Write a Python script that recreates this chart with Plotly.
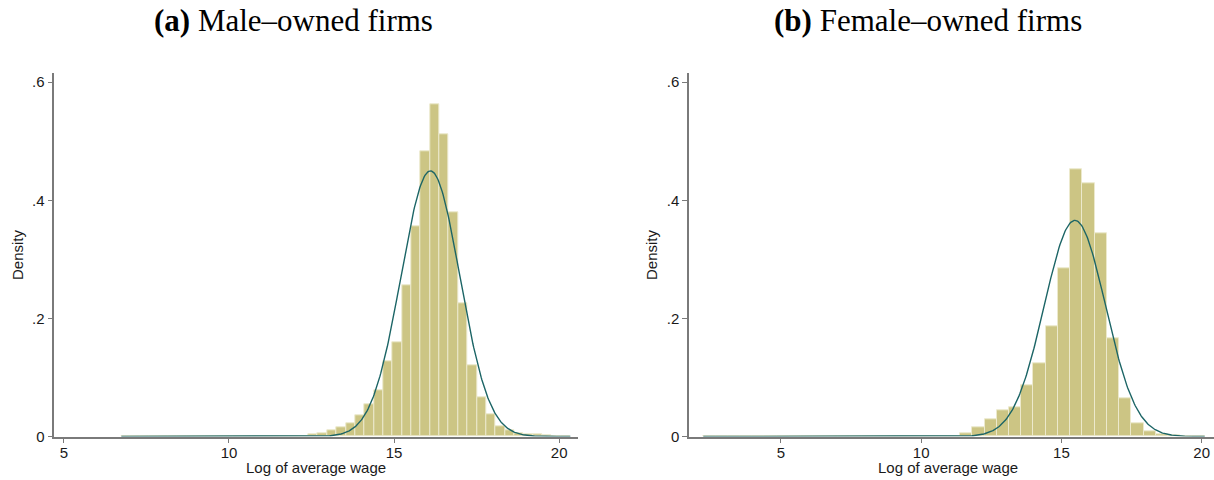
import numpy as np
import plotly.graph_objects as go

# ---------------- data ----------------
tick_vals_x = [5, 10, 15, 20]
tick_vals_y = [0, 0.2, 0.4, 0.6]
tick_text_y = ["0", ".2", ".4", ".6"]

# Male-owned firms: histogram (48 bins starting at data minimum)
male_bin_start = 6.74
male_bin_width = 0.2833
male_density = [0.0] * 20 + [
    0.0045, 0.006, 0.010, 0.015, 0.023, 0.036, 0.054, 0.078, 0.128, 0.159,
    0.256, 0.356, 0.483, 0.563, 0.511, 0.379, 0.226, 0.120, 0.066, 0.038,
    0.017, 0.010, 0.006, 0.004, 0.003, 0.002, 0.001, 0.0005]
male_mean = 16.10
male_sd = 0.887
male_min, male_max = 6.74, 20.34

# Female-owned firms: histogram (41 bins starting at data minimum)
female_bin_start = 2.23
female_bin_width = 0.436
female_density = [0.0] * 20 + [
    0.001, 0.0054, 0.016, 0.029, 0.045, 0.049, 0.087, 0.124, 0.187, 0.284,
    0.453, 0.429, 0.344, 0.166, 0.064, 0.022, 0.009, 0.004, 0.002, 0.001, 0.001]
female_mean = 15.48
female_sd = 1.090
female_min, female_max = 2.23, 20.11

titles = ["<b>(a)</b> Male–owned firms", "<b>(b)</b> Female–owned firms"]
x_title = "Log of average wage"
y_title = "Density"

# ---------------- style ----------------
W, H = 1214, 480
BAR_FILL = "rgb(204,197,132)"
BAR_LINE = "rgb(236,233,204)"
CURVE = "#1c6566"
AXIS = "#7a7a7a"
TXT = "#1a1a1a"
SANS = "Liberation Sans, Arial, sans-serif"
SERIF = "Liberation Serif, Times New Roman, serif"

fig = go.Figure()

def add_panel(idx, start, width, dens, mu, sd, lo, hi):
    xa = "x" if idx == 1 else f"x{idx}"
    ya = "y" if idx == 1 else f"y{idx}"
    centers = [start + width * (i + 0.5) for i in range(len(dens))]
    fig.add_trace(go.Bar(x=centers, y=dens, width=width, xaxis=xa, yaxis=ya,
                         marker=dict(color=BAR_FILL, line=dict(color=BAR_LINE, width=1)),
                         showlegend=False, hoverinfo="x+y"))
    xs = np.linspace(lo, hi, 600)
    ys = np.exp(-0.5 * ((xs - mu) / sd) ** 2) / (sd * np.sqrt(2 * np.pi))
    fig.add_trace(go.Scatter(x=xs, y=ys, mode="lines", xaxis=xa, yaxis=ya,
                             line=dict(color=CURVE, width=1.4),
                             showlegend=False, hoverinfo="skip"))

add_panel(1, male_bin_start, male_bin_width, male_density, male_mean, male_sd, male_min, male_max)
add_panel(2, female_bin_start, female_bin_width, female_density, female_mean, female_sd, female_min, female_max)

y_dom = [(H - 436.5) / H, (H - 73.3) / H]
common_x = dict(showgrid=False, zeroline=False, showline=True, linecolor=AXIS, linewidth=1.5,
                ticks="outside", ticklen=5, tickwidth=1.2, tickcolor=AXIS,
                tickvals=tick_vals_x, tickfont=dict(family=SANS, size=15, color=TXT),
                ticklabelstandoff=-3)
common_y = dict(showgrid=False, zeroline=False, showline=True, linecolor=AXIS, linewidth=1.5,
                ticks="outside", ticklen=5, tickwidth=1.2, tickcolor=AXIS,
                tickvals=tick_vals_y, ticktext=tick_text_y,
                tickfont=dict(family=SANS, size=15, color=TXT),
                range=[0, 0.615], domain=y_dom)

fig.update_layout(
    width=W, height=H, margin=dict(l=0, r=0, t=0, b=0, autoexpand=False),
    paper_bgcolor="white", plot_bgcolor="white", bargap=0,
    xaxis=dict(common_x, domain=[54.3 / W, 578 / W], range=[4.71, 20.57], anchor="y"),
    yaxis=dict(common_y, anchor="x"),
    xaxis2=dict(common_x, domain=[689 / W, 1.0], range=[1.72, 20.44], anchor="y2"),
    yaxis2=dict(common_y, anchor="x2"),
)

# titles
for cx, t in zip([293, 928], titles):
    fig.add_annotation(x=cx / W, y=1 - 21 / H, xref="paper", yref="paper", text=t,
                       showarrow=False, font=dict(family=SERIF, size=31, color="black"),
                       xanchor="center", yanchor="middle")
# axis titles
for cx in [(54.3 + 578) / 2, (689 + W) / 2 - 4]:
    fig.add_annotation(x=cx / W, y=1 - 467 / H, xref="paper", yref="paper", text=x_title,
                       showarrow=False, font=dict(family=SANS, size=15, color=TXT),
                       xanchor="center", yanchor="middle")
for cx in [17, 651]:
    fig.add_annotation(x=cx / W, y=1 - 255 / H, xref="paper", yref="paper", text=y_title,
                       textangle=-90, showarrow=False, font=dict(family=SANS, size=15, color=TXT),
                       xanchor="center", yanchor="middle")

fig.write_html("out.html", config={"displayModeBar": False},
               post_script="document.body.style.margin='0';document.body.style.overflow='hidden';")
